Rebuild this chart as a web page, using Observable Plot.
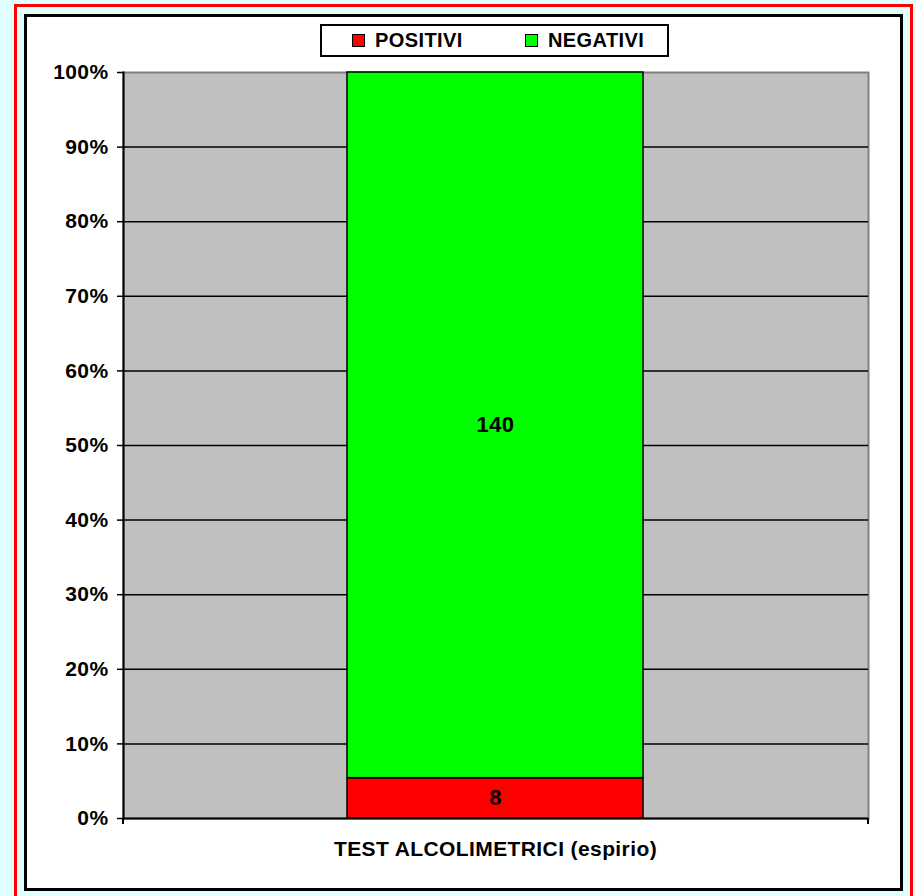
<!DOCTYPE html>
<html>
<head>
<meta charset="utf-8">
<script src="https://cdn.jsdelivr.net/npm/d3@7"></script>
<script src="https://cdn.jsdelivr.net/npm/@observablehq/plot@0.6"></script>
<style>
  html, body { margin: 0; padding: 0; }
  body {
    width: 916px; height: 896px; overflow: hidden; position: relative;
    background: #e0ffff;
    font-family: "Liberation Sans", Arial, sans-serif;
  }
  #outer {
    position: absolute; left: 14px; top: 4px; width: 899px; height: 900px;
    border: 3px solid #ff0000; box-sizing: border-box;
  }
  #panel {
    position: absolute; left: 24px; top: 14px; width: 879px; height: 877px;
    border: 3px solid #000; background: #fff; box-sizing: border-box;
  }
  #chart { position: absolute; left: 0; top: 0; }
  #legend {
    position: absolute; left: 320px; top: 24px; width: 349px; height: 33px;
    border: 2px solid #000; background: #fff; box-sizing: border-box;
    font-weight: bold; font-size: 20px; color: #000; letter-spacing: 0.4px;
  }
  #legend .item { position: absolute; top: 0; height: 29px; display: flex; align-items: center; }
  #legend .sw { width: 11px; height: 11px; border: 1px solid #000; margin-right: 10px; }
</style>
</head>
<body>
<div id="outer"></div>
<div id="panel"></div>
<div id="chart"></div>
<div id="legend"></div>
<script>
// Alcohol breath tests: positive vs negative, shown as a 100% stacked column
const categories = ["TEST ALCOLIMETRICI (espirio)"];
const series = ["POSITIVI", "NEGATIVI"];
const counts = [8, 140];
const colors = ["#ff0000", "#00ff00"];
const yTicks = [0, 0.1, 0.2, 0.3, 0.4, 0.5, 0.6, 0.7, 0.8, 0.9, 1.0];
const gridValues = [0.1, 0.2, 0.3, 0.4, 0.5, 0.6, 0.7, 0.8, 0.9];

const rows = series.map((s, i) => ({test: categories[0], esito: s, n: counts[i]}));

const chart = Plot.plot({
  width: 916,
  height: 896,
  marginLeft: 123,
  marginRight: 48,
  marginTop: 72,
  marginBottom: 78,
  style: {background: "transparent", fontFamily: "'Liberation Sans', Arial, sans-serif", overflow: "visible"},
  x: {domain: categories, padding: 0.43, label: null},
  y: {domain: [0, 1], label: null},
  color: {domain: series, range: colors},
  marks: [
    Plot.frame({fill: "#c0c0c0", stroke: "#808080", strokeWidth: 2}),
    Plot.ruleY(gridValues, {stroke: "#000", strokeWidth: 1.5}),
    Plot.barY(rows, {x: "test", y: "n", fill: "esito", offset: "normalize", order: series, stroke: "#000", strokeWidth: 1.5}),
    Plot.text(rows, Plot.stackY({x: "test", y: "n", z: "esito", text: "n", offset: "normalize", order: series,
      fontSize: 22, fontWeight: "bold", fill: "#000"})),
    Plot.axisY({ticks: yTicks, tickFormat: d3.format(".0%"), tickSize: 6, tickPadding: 9,
      fontSize: 21, fontWeight: "bold", stroke: "#000", strokeWidth: 1.5, fill: "#000"}),
    Plot.axisX({tickSize: 0, tickPadding: 23, fontSize: 21, fontWeight: "bold", fill: "#000"}),
    Plot.frame({anchor: "left", stroke: "#000", strokeWidth: 2}),
    Plot.ruleY([0], {stroke: "#000", strokeWidth: 2})
  ]
});

// Category-boundary tick marks below the horizontal axis, from the scales
const xr = chart.scale("x").range;
const y0 = chart.scale("y").apply(0);
const svg = d3.select(chart);
svg.append("g").attr("stroke", "#000").attr("stroke-width", 2)
  .selectAll("line").data(xr).join("line")
  .attr("x1", d => d).attr("x2", d => d)
  .attr("y1", y0).attr("y2", y0 + 6);
svg.selectAll("text").style("letter-spacing", "0.4px");

document.getElementById("chart").append(chart);

// Legend
const legend = d3.select("#legend");
const legendLeft = [30, 203];
series.forEach((s, i) => {
  const item = legend.append("div").attr("class", "item").style("left", legendLeft[i] + "px");
  item.append("div").attr("class", "sw").style("background", colors[i]);
  item.append("span").text(s);
});
</script>
</body>
</html>
